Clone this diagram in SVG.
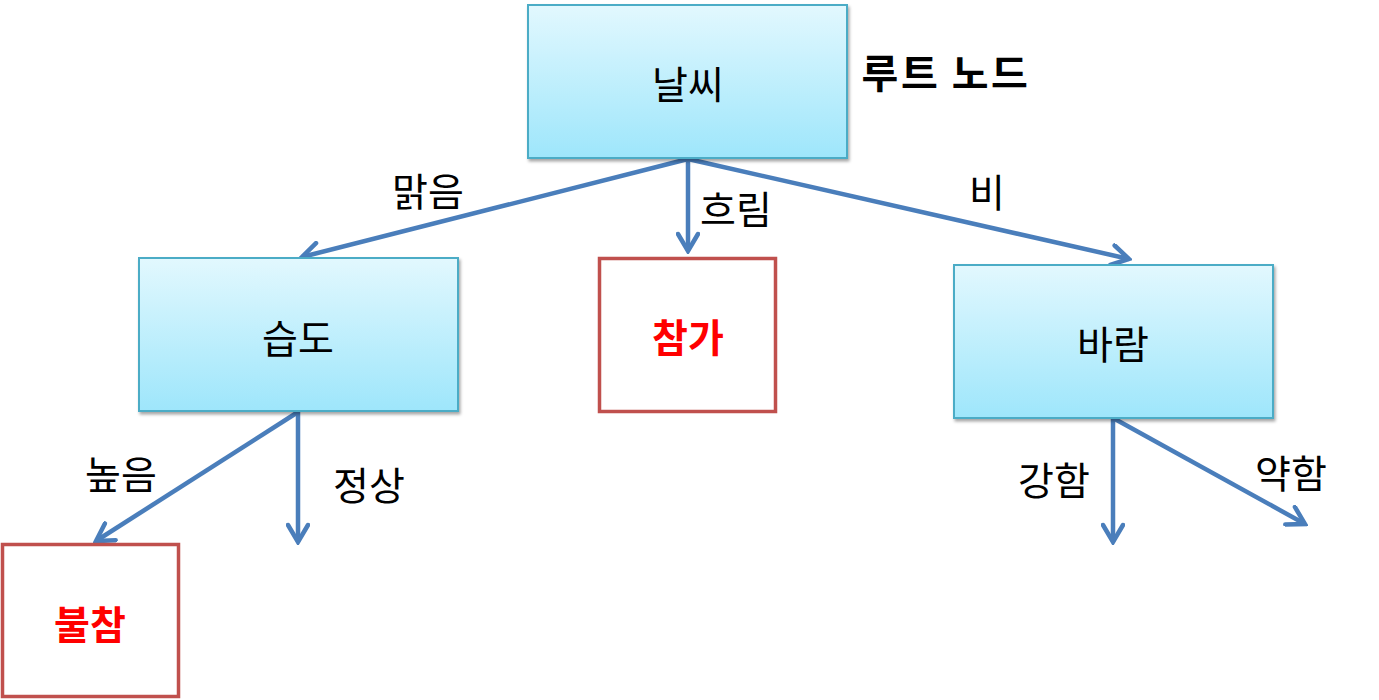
<svg xmlns="http://www.w3.org/2000/svg" width="1379" height="700" viewBox="0 0 1379 700">
<style>
.lbl{font-family:"Noto Sans CJK KR","Noto Sans",sans-serif;font-size:39px;fill:#000;text-anchor:middle;dominant-baseline:central}
.red{fill:#ff0000;font-weight:bold}
.bold{font-weight:bold}
.blue{fill:url(#g);stroke:#4bacc6;stroke-width:2}
.redbox{fill:#fff;stroke:#c0504d;stroke-width:3.5}
.conn{stroke:#4a7ebb;stroke-width:4.5;fill:none;marker-end:url(#ah)}
</style>
<defs>
<linearGradient id="g" x1="0" y1="0" x2="0" y2="1">
<stop offset="0" stop-color="#e2f8fe"/>
<stop offset="1" stop-color="#9ee6fb"/>
</linearGradient>
<filter id="sh" x="-5%" y="-5%" width="115%" height="120%">
<feDropShadow dx="1.5" dy="2.5" stdDeviation="1.5" flood-color="#000" flood-opacity="0.35"/>
</filter>
<marker id="ah" viewBox="-20 -12 23 24" markerWidth="23" markerHeight="24" refX="0" refY="0" orient="auto" markerUnits="userSpaceOnUse">
<path d="M-17,-10 L0,0 L-17,10" fill="none" stroke="#4a7ebb" stroke-width="4.5" stroke-linecap="round" stroke-linejoin="miter"/>
</marker>
</defs>
<g id="connectors">
<line class="conn" x1="688" y1="159" x2="302" y2="257"/>
<line class="conn" x1="688" y1="159" x2="688" y2="251"/>
<line class="conn" x1="688" y1="159" x2="1129" y2="259"/>
<line class="conn" x1="298" y1="412" x2="96" y2="541"/>
<line class="conn" x1="298" y1="412" x2="298" y2="542"/>
<line class="conn" x1="1113" y1="418" x2="1113" y2="542"/>
<line class="conn" x1="1113" y1="418" x2="1305" y2="524"/>
</g>
<g id="edge-labels">
<text class="lbl" x="428" y="189">맑음</text>
<text class="lbl" x="736" y="207">흐림</text>
<text class="lbl" x="987" y="190">비</text>
<text class="lbl" x="121" y="472">높음</text>
<text class="lbl" x="369" y="483">정상</text>
<text class="lbl" x="1054" y="478">강함</text>
<text class="lbl" x="1291" y="471">약함</text>
</g>
<g id="node-weather">
<rect class="blue" filter="url(#sh)" x="528" y="5" width="319" height="153"/>
<text class="lbl" x="688" y="82">날씨</text>
</g>
<g id="root-label">
<text class="lbl bold" x="946" y="71" style="font-size:40px;letter-spacing:2.5px">루트 노드</text>
</g>
<g id="node-humidity">
<rect class="blue" filter="url(#sh)" x="139" y="258" width="319" height="153"/>
<text class="lbl" x="298" y="336">습도</text>
</g>
<g id="node-attend">
<rect class="redbox" x="599.5" y="258.5" width="176" height="153"/>
<text class="lbl red" x="688" y="335">참가</text>
</g>
<g id="node-wind">
<rect class="blue" filter="url(#sh)" x="954" y="265" width="319" height="153"/>
<text class="lbl" x="1113" y="342">바람</text>
</g>
<g id="node-absent">
<rect class="redbox" x="2.5" y="544.5" width="176" height="152"/>
<text class="lbl red" x="90" y="622">불참</text>
</g>
</svg>
